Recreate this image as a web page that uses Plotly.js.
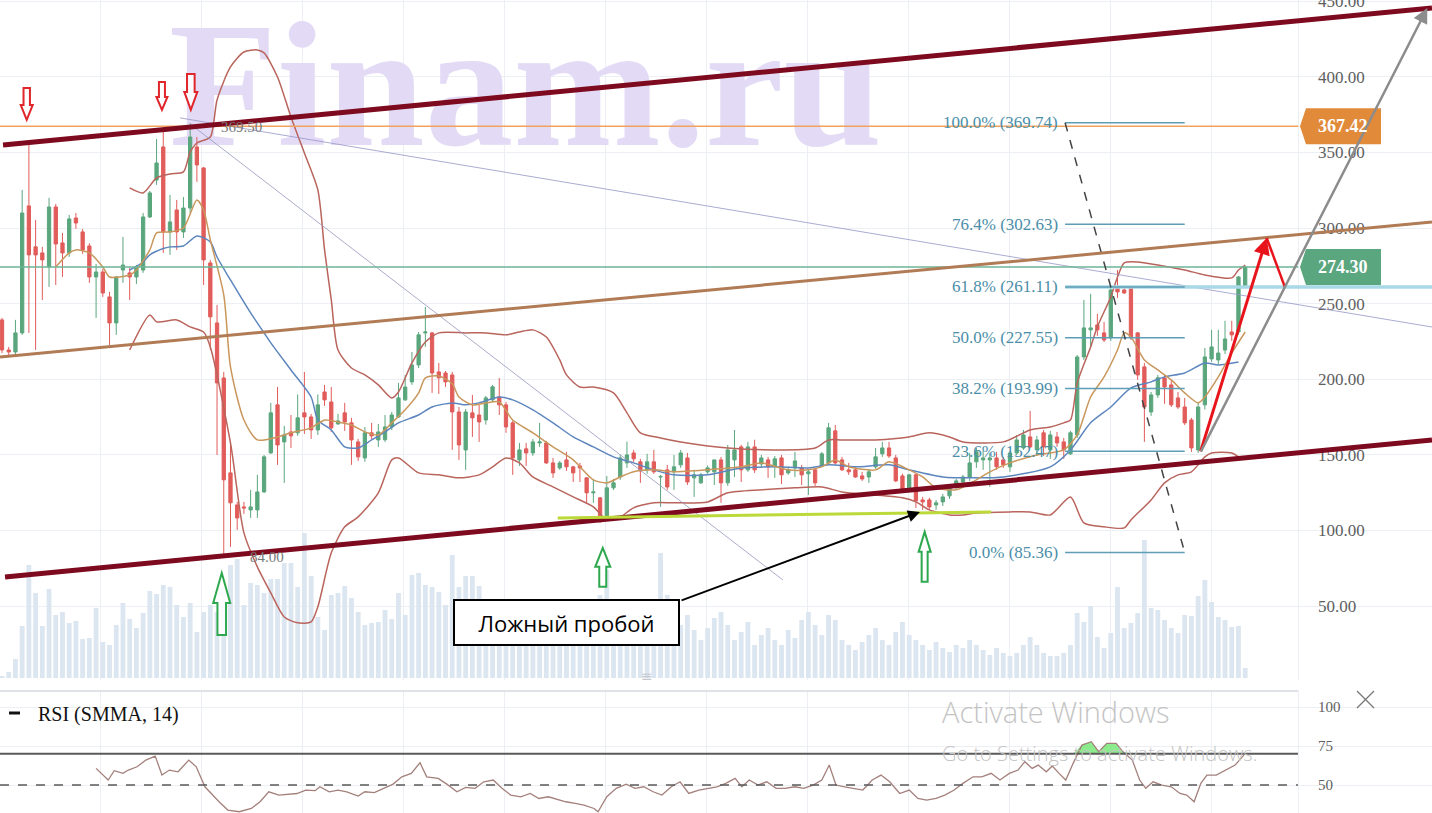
<!DOCTYPE html>
<html>
<head>
<meta charset="utf-8">
<script src="https://cdn.plot.ly/plotly-3.0.1.min.js"></script>
<style>
html,body{margin:0;padding:0;background:#ffffff;overflow:hidden;}
#chart{width:1432px;height:813px;}
</style>
</head>
<body>
<div id="chart"></div>
<script>
// ================= DATA =================
const openP = [
239.3,219.4,218.1,230.7,314.7,287.6,283.6,274.3,314.0,290.2,
283.6,306.7,297.5,288.2,267.7,271.0,254.5,237.3,272.3,270.4,
267.7,272.3,307.4,331.8,353.7,297.5,312.0,297.5,313.3,353.7,
339.8,277.0,237.3,200.9,138.1,116.9,115.6,113.6,113.6,125.5,
151.3,183.1,158.6,165.2,164.6,177.8,175.1,166.5,191.6,185.0,
170.5,177.8,171.2,158.6,148.0,164.6,159.9,160.0,168.5,175.1,
186.4,198.3,209.5,230.7,230.7,204.9,204.2,202.9,178.4,153.3,
177.8,176.4,173.1,186.4,188.3,183.1,171.2,146.7,154.0,151.3,
157.9,157.9,144.7,141.4,146.7,142.1,142.7,134.8,124.9,121.6,
109.0,128.2,135.4,144.7,151.3,145.4,140.1,145.4,135.4,140.1,
138.8,143.4,148.0,134.8,131.5,138.8,138.8,146.7,131.5,146.7,
155.3,140.1,155.3,144.0,146.7,142.7,148.0,138.1,141.4,141.4,
137.5,140.1,142.7,144.7,165.9,146.7,140.1,140.1,136.1,135.4,
142.1,150.7,154.6,148.0,136.1,128.2,136.8,120.2,120.2,116.9,
118.9,122.9,128.8,132.1,135.4,145.4,146.7,146.7,148.0,146.7,
142.1,151.3,154.6,161.9,153.3,164.6,153.3,161.9,158.6,150.7,
163.2,214.8,232.7,236.0,230.7,227.4,260.4,259.1,260.4,230.7,
208.2,178.4,189.7,200.9,196.3,187.7,181.7,173.1,153.3,183.1,
213.5,212.8,219.4,231.3,231.3,261.1];
const highP = [
240.6,221.4,239.3,325.3,356.3,305.4,287.6,320.0,316.0,296.8,
308.7,310.0,299.5,290.0,276.3,273.0,257.8,268.4,294.2,273.7,
275.6,310.0,324.6,359.0,364.9,322.0,318.6,320.6,369.5,360.3,
340.5,279.0,249.2,204.9,158.6,118.9,118.9,126.9,136.8,150.0,
184.4,195.0,169.2,176.4,190.0,204.9,177.1,190.0,196.3,194.9,
177.1,184.4,174.5,160.6,168.5,171.2,170.5,176.4,178.4,197.6,
202.9,218.1,231.3,247.9,231.3,210.8,205.5,204.9,181.7,180.4,
189.7,183.1,189.0,196.3,200.9,185.0,172.5,157.9,157.9,160.6,
171.2,159.3,148.0,146.0,152.0,142.7,144.7,135.0,133.5,122.2,
136.1,134.1,150.0,158.8,153.3,147.4,150.7,153.3,136.8,143.4,
150.0,153.3,151.3,140.1,138.1,143.0,146.7,148.7,156.6,166.5,
156.6,158.6,160.0,150.0,148.7,149.3,150.0,142.1,152.0,143.4,
140.1,141.4,152.0,171.2,169.8,148.7,144.7,142.1,138.8,140.8,
154.6,158.6,158.6,150.0,137.5,137.5,137.5,122.2,121.6,120.2,
124.2,129.5,134.1,136.8,151.3,154.6,152.6,151.3,152.0,148.7,
152.6,163.2,166.5,179.1,162.6,166.5,165.9,165.2,161.2,165.9,
216.1,252.5,256.5,243.3,238.0,260.4,272.3,261.1,261.1,231.3,
210.8,191.6,202.9,202.9,199.6,191.6,187.7,174.5,185.0,220.7,
232.7,232.7,238.7,238.7,268.4,275.0];
const lowP = [
217.4,216.1,216.1,229.4,230.7,219.4,252.5,261.1,262.4,267.7,
281.0,299.5,283.0,263.8,240.6,254.5,222.7,229.4,263.8,252.5,
263.1,270.4,306.7,328.6,283.6,282.3,285.6,293.5,310.0,330.6,
262.4,219.4,150.0,84.0,89.1,100.4,111.0,108.3,108.3,124.9,
150.7,143.4,131.5,154.6,162.6,163.9,160.6,163.2,182.4,165.2,
169.8,165.9,143.4,146.0,145.4,160.6,155.3,158.6,166.5,174.5,
185.7,196.3,207.5,221.4,191.0,190.3,195.0,153.3,146.7,140.1,
161.9,158.6,170.0,185.0,176.4,164.6,136.8,142.7,142.7,149.3,
155.3,144.0,134.8,140.1,139.4,132.1,132.1,118.3,118.3,105.0,
106.3,126.9,133.5,141.4,145.4,131.5,137.5,137.5,115.6,126.9,
126.9,141.4,130.1,122.2,130.8,137.5,130.1,118.3,129.5,135.4,
132.1,138.8,138.1,141.4,134.8,134.8,130.8,136.8,135.4,130.1,
123.5,129.5,142.7,143.4,143.4,139.4,136.8,134.8,132.8,131.5,
140.8,148.7,148.0,132.1,126.2,126.2,114.9,113.6,113.6,113.6,
116.2,120.9,127.5,130.1,132.8,141.4,140.1,128.8,140.1,141.4,
138.8,150.0,153.3,154.6,149.3,149.3,147.4,155.3,147.4,150.0,
161.2,212.8,221.4,228.7,224.7,225.4,253.8,256.5,226.0,199.6,
158.6,175.8,187.7,183.8,181.7,180.4,169.8,152.0,151.3,180.0,
211.5,210.0,216.7,225.4,229.4,260.4];
const closeP = [
219.4,218.1,230.7,310.0,282.3,282.3,279.0,314.0,289.5,283.6,
306.1,303.4,285.6,267.7,271.0,257.1,237.3,267.7,275.6,267.7,
273.7,307.4,323.3,343.1,297.5,304.1,297.5,313.3,360.3,341.8,
279.0,241.3,197.6,133.5,118.3,108.3,114.9,115.6,125.5,148.7,
177.8,156.6,163.2,162.6,174.5,175.1,166.5,183.1,186.4,167.9,
172.5,171.8,159.9,148.7,164.6,162.6,165.2,168.5,176.4,187.7,
194.9,209.5,229.4,231.3,204.2,201.0,198.3,178.4,156.6,178.4,
174.5,171.8,187.7,195.0,183.1,168.5,148.0,153.3,151.3,158.6,
158.6,144.7,138.1,144.7,142.1,138.1,141.4,124.9,125.5,107.0,
128.2,131.5,148.0,150.0,147.4,139.4,145.4,138.8,135.6,128.8,
142.1,151.3,132.1,136.8,136.8,141.4,146.7,131.5,153.3,153.3,
140.1,155.3,140.1,148.0,142.1,147.4,136.8,140.1,146.0,136.8,
138.8,131.5,150.7,167.9,144.7,140.1,138.8,135.4,134.1,138.8,
148.7,154.6,149.3,132.8,127.5,136.8,119.6,118.9,115.6,118.3,
122.2,128.2,132.8,135.4,144.7,152.0,148.0,148.0,142.1,143.4,
151.3,159.9,163.2,155.3,159.9,155.3,163.2,157.9,153.3,164.6,
214.8,234.0,234.0,232.7,226.0,259.1,257.8,257.1,228.0,202.9,
181.7,189.7,201.0,194.9,183.1,181.7,171.2,154.6,181.7,214.8,
221.4,217.4,226.7,229.4,267.7,274.3];
// volume, arbitrary units
const volume = [
2,6,19,52,113,85,52,89,63,66,
55,57,39,40,70,36,33,53,75,59,
50,65,87,84,93,91,73,61,75,46,
66,73,66,88,113,119,73,95,93,85,
99,99,115,115,91,145,102,61,48,83,
85,92,80,66,53,55,56,68,59,85,
63,103,105,93,91,86,73,123,91,102,
102,92,78,60,73,53,68,48,56,38,
50,63,46,38,56,66,48,60,73,83,
108,70,63,56,78,66,48,58,125,83,
68,53,63,48,38,50,60,66,53,38,
46,56,33,43,50,38,33,48,40,58,
66,53,43,63,58,38,33,28,36,43,
50,38,33,46,56,43,38,33,28,36,
30,26,33,30,38,33,28,23,30,25,
22,25,33,41,33,25,22,22,25,33,
65,56,72,41,30,45,91,50,55,65,
138,70,68,58,50,45,63,62,82,98,
76,61,58,51,52,10];

// Bollinger upper band
const bbUpperIdx = [19,21,23,25,27,28,29,31,32,34,36,38,39,41,43,45,47,48,49,50,52,54,56,58,59,61,63,65,69,72,75,77,79,81,83,84,86,88,91,93,95,98,101,108,115,121,123,125,130,135,138,141,143,149,153,156,158,159,160,162,163,165,166,167,169,172,176,179,183,184,185];
const bbUpper = [326.6,323.3,333.2,335.8,337.2,350.4,356.3,360.3,384.8,406.6,416.5,417.9,415.9,400.0,373.5,349.7,325.3,285.6,252.5,219.4,207.5,202.9,196.3,187.7,191.6,210.8,224.7,230.7,230.7,230.7,229.4,231.3,232.7,228.0,212.8,202.9,194.9,194.9,191.0,177.8,164.6,161.2,158.6,154.6,153.3,154.6,159.9,159.9,159.9,161.9,164.6,161.9,158.6,158.6,166.5,168.5,171.2,173.1,197.6,221.4,234.7,254.5,267.7,277.0,277.6,275.6,272.3,269.0,267.1,272.3,275.6];
// Bollinger lower band
const bbLowerIdx = [19,22,23,26,28,30,31,34,36,38,40,42,44,46,47,49,51,53,56,58,59,62,65,68,71,73,75,77,79,82,85,88,90,92,94,97,100,105,108,113,118,122,125,130,134,136,138,141,143,145,150,153,156,159,161,164,167,168,171,173,175,177,179,180,183,184];
const bbLower = [219.4,242.6,238.0,239.3,234.7,231.3,221.4,157.9,98.4,75.9,58.7,42.8,38.9,39.5,49.5,85.2,102.4,109.0,124.9,146.7,148.0,138.1,136.8,134.8,136.8,142.1,148.0,144.7,135.4,128.8,122.2,115.6,107.0,109.0,115.0,118.3,118.3,118.9,124.9,126.9,128.2,128.8,125.5,123.5,121.6,118.9,113.6,110.3,110.3,111.6,112.3,112.3,110.3,122.2,105.0,102.4,101.7,107.0,120.2,131.5,136.8,138.8,148.7,151.3,151.3,148.7];
// slow moving average (blue)
const smaIdx = [19,21,22,24,25,27,29,31,32,34,37,39,40,43,46,47,49,51,53,55,57,59,62,64,67,69,71,74,76,79,82,85,88,91,94,97,100,105,110,115,120,123,127,132,135,140,145,149,156,159,162,165,168,171,173,176,179,181,184];
const sma = [272.3,277.6,282.3,286.5,287.6,288.2,294.8,290.9,280.9,265.7,243.9,230.7,224.1,206.2,188.3,173.1,166.5,155.3,154.6,159.9,165.2,171.2,176.4,181.7,184.4,183.1,184.4,188.3,186.4,179.8,171.2,161.9,155.3,148.7,144.7,140.1,136.8,136.8,141.4,142.1,141.4,143.4,142.1,143.4,140.1,135.4,134.8,135.4,142.1,153.3,171.2,181.7,194.3,198.3,201.6,204.2,210.8,209.5,211.5];
// fast moving average (tan)
const emaIdx = [8,10,11,13,15,16,19,20,22,23,25,27,29,30,31,33,34,36,38,41,43,46,48,50,52,54,56,58,60,62,63,65,67,68,70,72,74,76,79,82,85,88,90,92,94,97,100,105,110,113,117,120,122,124,126,130,132,135,137,139,142,145,147,150,154,158,160,162,164,166,167,168,170,172,174,176,178,179,181,183,185];
const ema = [274.3,283.6,285.6,283.6,274.3,267.7,269.0,272.3,285.6,296.8,297.5,300.1,318.6,312.0,292.2,255.8,208.2,173.1,159.9,161.9,164.6,167.9,173.1,171.8,169.8,165.2,163.2,171.2,179.8,191.0,200.9,202.2,197.0,188.3,183.1,184.4,185.0,173.1,164.6,155.3,146.7,133.5,131.5,135.4,138.8,140.1,138.8,140.1,142.1,144.7,140.1,140.1,142.1,146.7,142.1,140.1,145.4,140.1,135.4,128.2,126.9,133.5,138.8,144.7,150.0,153.3,163.2,188.3,201.6,219.4,230.7,228.0,212.8,206.2,199.6,191.0,184.4,188.3,201.6,217.4,231.3];
// RSI (SMMA, 14)
const rsiIdx = [
14.0,15.8,16.7,18.0,18.8,20.1,21.4,22.8,23.8,24.9,
26.2,27.8,28.9,30.2,32.3,33.6,35.3,37.1,38.4,39.7,
41.2,42.6,43.9,45.2,46.6,47.3,48.7,50.0,51.3,53.0,
54.0,55.4,56.8,58.2,59.5,60.9,62.2,63.2,64.9,66.2,
67.7,69.0,70.4,71.7,73.1,74.4,75.7,77.2,78.6,79.9,
81.3,82.6,83.9,85.3,86.6,88.1,88.7,90.0,91.4,92.9,
94.2,95.5,96.9,98.2,99.6,100.9,102.2,103.7,105.1,106.4,
107.7,109.1,110.1,111.2,112.5,113.8,115.2,116.5,118.0,119.3,
120.7,122.0,123.1,124.1,125.4,126.8,128.1,129.5,130.8,132.1,
133.6,135.0,136.3,137.6,139.0,140.3,141.7,143.0,144.5,145.8,
147.2,148.5,149.9,151.2,152.2,153.3,154.2,155.4,156.3,157.3,
158.3,159.4,160.7,162.1,163.2,164.4,165.8,166.8,168.2,169.3,
170.2,171.3,172.6,174.0,175.3,176.3,177.4,178.4,179.3,180.7,
182.2,183.5,184.8];
const rsiVal = [
60.7,53.2,59.2,57.5,59.6,61.7,66.0,68.6,56.4,59.6,
58.5,66.0,61.7,48.9,39.3,34.0,32.9,35.0,39.3,45.7,
43.6,44.2,44.6,46.8,46.4,48.9,45.7,46.8,45.7,42.9,
45.7,45.1,47.9,50.6,55.3,57.5,64.3,55.3,54.3,50.6,
45.7,48.5,47.9,52.1,53.2,47.9,43.6,42.5,44.6,41.4,
42.5,40.8,39.3,38.2,37.2,35.0,32.9,42.5,47.9,50.6,
47.9,48.9,45.7,43.6,48.9,52.1,44.6,46.8,47.9,48.9,
51.1,54.3,48.9,53.2,50.0,52.1,47.9,47.9,48.9,47.9,
50.0,53.2,62.8,50.0,48.9,47.9,46.8,53.2,56.4,52.1,
44.6,46.8,41.4,40.4,41.4,43.6,46.8,51.1,55.3,55.3,
57.5,53.2,57.5,59.6,65.0,60.7,62.8,58.5,62.2,57.5,
53.2,63.9,75.6,77.8,71.4,76.7,76.7,71.4,66.0,53.2,
47.9,52.1,50.0,48.9,44.6,43.6,39.3,51.1,56.4,56.4,
60.0,62.8,69.2];
// Fibonacci retracement
const fibPct = ['0.0%','23.6%','38.2%','50.0%','61.8%','76.4%','100.0%'];
const fibPrice = [85.36,152.47,193.99,227.55,261.11,302.63,369.74];
const priceTicks = [50,100,150,200,250,300,350,400,450];
const rsiTicks = [50,75,100];
const rsiLevels = [70,50];
const lastPrice = 274.30;
const markedPrice = 367.42;
const peakPrice = 369.50;
const lowPrice = 84.00;

// ================= GEOMETRY =================
const W = 1432, H = 813;
const X_RANGE = [-0.298, 212.8];           // candle index across full width
const py = px => 1 - px / H;               // paper y from pixel row
const pxp = px => px / W;                  // paper x from pixel column
const candleIdx = openP.map((_, i) => i);
const gridX = Array.from({length: 12}, (_, k) => 14.73 + 15.03 * k).concat([192.9]);
const AX_POS = 0.9197;
const RIGHT_EDGE = 0.9064;
const GRID = '#eceff3';

// ================= TRACES =================
const traces = [];
traces.push({ // watermark (on base subplot, below everything)
  type: 'scatter', mode: 'text', x: [77.9], y: [577], xaxis: 'x', yaxis: 'y',
  text: ['Finam.ru'], textposition: 'middle center',
  textfont: {family: 'Liberation Serif', size: 177, color: '#e3dbf5', weight: 'bold'},
  hoverinfo: 'skip', showlegend: false, cliponaxis: false
});
traces.push({
  type: 'bar', x: candleIdx, y: volume, xaxis: 'x', yaxis: 'y',
  marker: {color: '#dce6f0', line: {width: 0}}, width: 0.72,
  hoverinfo: 'skip', showlegend: false
});
traces.push({
  type: 'candlestick', x: candleIdx, open: openP, high: highP, low: lowP, close: closeP,
  xaxis: 'x', yaxis: 'y3', whiskerwidth: 0,
  increasing: {line: {color: '#5aa67d', width: 1}, fillcolor: '#5aa67d'},
  decreasing: {line: {color: '#e15c5a', width: 1}, fillcolor: '#e15c5a'},
  hoverinfo: 'skip', showlegend: false
});
function lineTrace(x, y, color) {
  return {type: 'scatter', mode: 'lines', x, y, xaxis: 'x', yaxis: 'y3',
    line: {color, width: 1.5, shape: 'spline', smoothing: 0.7},
    hoverinfo: 'skip', showlegend: false};
}
traces.push(lineTrace(bbUpperIdx, bbUpper, '#b9645c'));
traces.push(lineTrace(bbLowerIdx, bbLower, '#b9645c'));
traces.push(lineTrace(smaIdx, sma, '#5d86be'));
traces.push(lineTrace(emaIdx, ema, '#c9975c'));

// RSI overbought fill
const obX = [], obY = [];
rsiVal.forEach((v, k) => {
  if (v >= 70 || rsiVal[k - 1] >= 70 || rsiVal[k + 1] >= 70) { obX.push(rsiIdx[k]); obY.push(Math.max(v, 70)); }
});
const fillX = obX.concat(obX.slice().reverse());
const fillY = obY.concat(obX.map(() => 70));
traces.push({type: 'scatter', mode: 'lines', x: fillX, y: fillY, xaxis: 'x2', yaxis: 'y2',
  fill: 'toself', fillcolor: 'rgba(120,232,120,0.85)', line: {width: 0}, hoverinfo: 'skip', showlegend: false});
traces.push({type: 'scatter', mode: 'lines', x: rsiIdx, y: rsiVal, xaxis: 'x2', yaxis: 'y2',
  line: {color: '#a3807c', width: 1.3}, hoverinfo: 'skip', showlegend: false});

// ================= SHAPES =================
const shapes = [];
function seg(x0, y0, x1, y1, color, width, dash) {
  shapes.push({type: 'line', xref: 'x', yref: 'y3', x0, y0, x1, y1, line: {color, width, dash: dash || 'solid'}});
}
// thin lavender trend lines from the peak
seg(26.5, 372.9, 212.8, 234.6, 'rgba(150,150,200,0.8)', 1);
seg(28.0, 368.9, 116.2, 67.3, 'rgba(150,150,190,0.8)', 1);
// horizontal price lines
seg(-0.3, markedPrice, 192.9, markedPrice, '#f0a25e', 1.5);
seg(-0.3, lastPrice, 192.9, lastPrice, '#6cb596', 1.5);
seg(158.2, fibPrice[4], 212.8, fibPrice[4], '#a9d8e6', 3.5);
// fibonacci levels
fibPrice.forEach(p => seg(158.2, p, 176.0, p, '#5d9db5', 1.5));
seg(158.2, fibPrice[6], 176.0, fibPrice[0], '#444444', 1.5, 'dash');
// channel lines
seg(-0.3, 214.8, 212.8, 304.1, '#b07b55', 3);
seg(0.15, 355.0, 212.8, 445.6, '#7d0a1e', 5);
seg(0.45, 69.3, 212.8, 159.9, '#7d0a1e', 5);
// support line (yellow-green)
seg(82.7, 108.3, 147.2, 112.3, '#bcd93a', 3);
// red projection return leg
seg(188.2, 293.5, 190.9, 261.1, '#e8141c', 2.5);
// hollow arrows
function hollowArrow(xi, price, Hh, hh, Wd, wd, color, down) {
  const s = down ? 1 : -1;
  const path = `M0,0 L${-Wd},${s*hh} L${-wd},${s*hh} L${-wd},${s*Hh} L${wd},${s*Hh} L${wd},${s*hh} L${Wd},${s*hh} Z`;
  shapes.push({type: 'path', xref: 'x', yref: 'y3', xsizemode: 'pixel', ysizemode: 'pixel',
    xanchor: xi, yanchor: price, path, line: {color, width: 2}, fillcolor: 'rgba(255,255,255,0.85)'});
}
hollowArrow(3.68, 371.6, 32, 15, 6, 3.2, '#e0252b', true);
hollowArrow(23.8, 378.2, 28, 13, 5.5, 3, '#e0252b', true);
hollowArrow(28.1, 378.2, 36, 18, 6.5, 3.8, '#e0252b', true);
hollowArrow(32.7, 71.9, 62, 30, 8.5, 4.3, '#2ea84e', false);
hollowArrow(89.4, 88.5, 39, 19, 7.5, 3.5, '#2ea84e', false);
hollowArrow(137.3, 99.1, 50, 20, 6, 3, '#2ea84e', false);
// price tags
function tag(price, color) {
  shapes.push({type: 'path', xref: 'paper', yref: 'y3', xsizemode: 'pixel', ysizemode: 'pixel',
    xanchor: pxp(1300), yanchor: price, path: 'M0,0 L6,18 L81,18 L81,-18 L6,-18 Z',
    line: {width: 0}, fillcolor: color});
}
tag(markedPrice, '#e08a3a');
tag(lastPrice, '#5aa67f');
// RSI levels
rsiLevels.forEach((lv, k) => shapes.push({type: 'line', xref: 'paper', yref: 'y2', x0: 0, x1: RIGHT_EDGE, y0: lv, y1: lv,
  line: {color: '#5a5a5a', width: k === 0 ? 2 : 1.5, dash: k === 0 ? 'solid' : 'dash'}}));
// panel separator
shapes.push({type: 'line', xref: 'paper', yref: 'paper', x0: 0, x1: RIGHT_EDGE, y0: py(691), y1: py(691), line: {color: '#dfe3e8', width: 2}});
// RSI legend marker
shapes.push({type: 'line', xref: 'paper', yref: 'paper', x0: pxp(9), x1: pxp(20), y0: py(713), y1: py(713), line: {color: '#111', width: 3}});
// close "x" icon
shapes.push({type: 'line', xref: 'paper', yref: 'paper', x0: pxp(1357), x1: pxp(1374), y0: py(691), y1: py(708), line: {color: '#777', width: 1.3}});
shapes.push({type: 'line', xref: 'paper', yref: 'paper', x0: pxp(1357), x1: pxp(1374), y0: py(708), y1: py(691), line: {color: '#777', width: 1.3}});

// ================= ANNOTATIONS =================
const annotations = [];
const fibFont = {family: 'Liberation Serif', size: 17, color: '#4b8ea8'};
fibPrice.forEach((p, k) => annotations.push({xref: 'x', yref: 'y3', x: 157.4, y: p, xanchor: 'right', yanchor: 'middle',
  text: `${fibPct[k]} (${p.toFixed(2)})`, showarrow: false, font: fibFont}));
annotations.push({xref: 'x', yref: 'y3', x: 35.6, y: 366.9, xanchor: 'center', text: peakPrice.toFixed(2), showarrow: false,
  font: {family: 'Liberation Serif', size: 15, color: '#7a7a7a'}});
annotations.push({xref: 'x', yref: 'y3', x: 39.4, y: 82.5, xanchor: 'center', text: lowPrice.toFixed(2), showarrow: false,
  font: {family: 'Liberation Serif', size: 15, color: '#7a7a7a'}});
annotations.push({xref: 'x', yref: 'y3', x: 84.0, y: 39.2, xanchor: 'center', text: 'Ложный пробой', showarrow: false,
  font: {family: 'Open Sans', size: 22, color: '#000'}, bgcolor: '#ffffff', bordercolor: '#000', borderwidth: 2,
  borderpad: 2, width: 219, height: 39});
annotations.push({xref: 'x', yref: 'y3', axref: 'x', ayref: 'y3', x: 136.6, y: 112.3, ax: 100.9, ay: 53.4,
  text: '', showarrow: true, arrowhead: 2, arrowsize: 1.2, arrowwidth: 2, arrowcolor: '#000', standoff: 0});
annotations.push({xref: 'x', yref: 'y3', axref: 'x', ayref: 'y3', x: 188.2, y: 293.5, ax: 178.3, ay: 151.3,
  text: '', showarrow: true, arrowhead: 2, arrowsize: 1.1, arrowwidth: 3, arrowcolor: '#e8141c', standoff: 0});
annotations.push({xref: 'x', yref: 'y3', axref: 'x', ayref: 'y3', x: 212.1, y: 445.6, ax: 178.3, ay: 151.3,
  text: '', showarrow: true, arrowhead: 2, arrowsize: 1.2, arrowwidth: 2.5, arrowcolor: '#8c8c8c', standoff: 0});
annotations.push({xref: 'paper', yref: 'y3', x: pxp(1343), y: markedPrice, xanchor: 'center', yanchor: 'middle',
  text: markedPrice.toFixed(2), showarrow: false,
  font: {family: 'Liberation Serif', size: 18, color: '#ffffff', weight: 'bold'}});
annotations.push({xref: 'paper', yref: 'y3', x: pxp(1343), y: lastPrice, xanchor: 'center', yanchor: 'middle',
  text: lastPrice.toFixed(2), showarrow: false,
  font: {family: 'Liberation Serif', size: 18, color: '#ffffff', weight: 'bold'}});
annotations.push({xref: 'paper', yref: 'paper', x: pxp(36), y: py(714), xanchor: 'left', yanchor: 'middle',
  text: 'RSI (SMMA, 14)', showarrow: false, font: {family: 'Liberation Serif', size: 20, color: '#111'}});
annotations.push({xref: 'paper', yref: 'paper', x: pxp(940), y: py(711), xanchor: 'left', yanchor: 'middle',
  text: 'Activate Windows', showarrow: false, font: {family: 'Open Sans', size: 29, color: '#c4c4c4', weight: 300}});
annotations.push({xref: 'paper', yref: 'paper', x: pxp(940), y: py(753), xanchor: 'left', yanchor: 'middle',
  text: 'Go to Settings to activate Windows.', showarrow: false, font: {family: 'Open Sans', size: 20, color: '#c4c4c4', weight: 300}});
annotations.push({xref: 'paper', yref: 'paper', x: pxp(647), y: py(686), xanchor: 'center', text: '≡', showarrow: false,
  font: {family: 'DejaVu Sans', size: 14, color: '#c3c8cf'}});

// ================= LAYOUT =================
const axisFont = {family: 'Liberation Serif', size: 17, color: '#606060'};
const layout = {
  width: W, height: H, margin: {l: 0, r: 0, t: 0, b: 0, pad: 0},
  paper_bgcolor: '#ffffff', plot_bgcolor: '#ffffff', showlegend: false, hovermode: false, dragmode: false,
  xaxis: {domain: [0, 1], range: X_RANGE, anchor: 'y', showticklabels: false, ticks: '', tickvals: gridX,
    showgrid: true, gridcolor: GRID, gridwidth: 1, zeroline: false, showline: false, rangeslider: {visible: false}},
  xaxis2: {domain: [0, 1], range: X_RANGE, anchor: 'y2', showticklabels: false, ticks: '', tickvals: gridX,
    showgrid: true, gridcolor: GRID, gridwidth: 1, zeroline: false, showline: false, rangeslider: {visible: false}},
  yaxis: {domain: [py(680), 1], range: [-2, 678], visible: false, showgrid: false, zeroline: false},
  yaxis3: {overlaying: 'y', range: [1.1, 450.9], anchor: 'free', position: AX_POS, side: 'right',
    tickvals: priceTicks, tickformat: '.2f', tickfont: axisFont, ticks: '', showgrid: true, gridcolor: GRID,
    zeroline: false, showline: false, ticklabeloverflow: 'allow'},
  yaxis2: {domain: [0, py(690)], range: [32.1, 110.9], anchor: 'free', position: AX_POS, side: 'right',
    tickvals: rsiTicks, tickfont: {family: 'Liberation Serif', size: 15, color: '#606060'}, ticks: '',
    showgrid: true, gridcolor: GRID, zeroline: false, showline: false},
  shapes, annotations
};

Plotly.newPlot('chart', traces, layout, {staticPlot: true, displayModeBar: false, responsive: false});
</script>
</body>
</html>
